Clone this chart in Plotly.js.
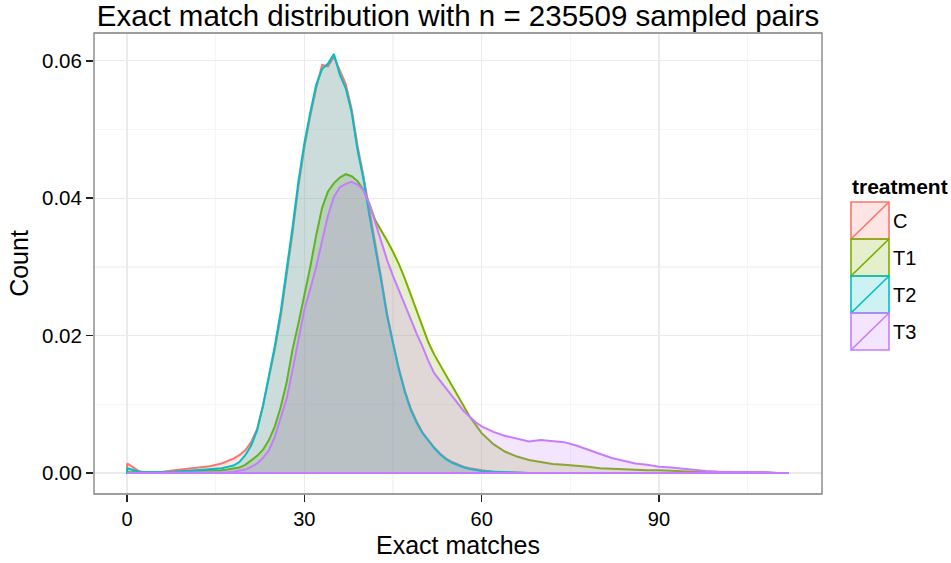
<!DOCTYPE html>
<html>
<head>
<meta charset="utf-8">
<script src="https://cdn.plot.ly/plotly-3.0.1.min.js"></script>
<style>
  html, body { margin: 0; padding: 0; background: #fff; }
  #chart { width: 951px; height: 563px; }
</style>
</head>
<body>
<div id="chart"></div>
<script>
// Number of exact matches (shared grid for all treatments)
const matches = [
  0, 1, 2, 3, 4, 6, 8, 10, 12, 14, 16,
  17, 18, 19, 20, 21, 22, 23, 24, 25, 26, 27, 28, 29, 30,
  31, 32, 33, 34, 35, 36, 37, 38, 39, 40, 41, 42, 43, 44, 45,
  46, 47, 48, 49, 50, 51, 52, 53, 54, 55, 56, 57, 58, 59, 60,
  62, 64, 66, 68, 70, 72, 74, 76, 78, 80, 82, 84, 86, 88, 90,
  92, 94, 96, 98, 100, 102, 104, 106, 108, 110, 112
];

const treatments = ['C', 'T1', 'T2', 'T3'];

// Density per treatment, one value per entry of `matches`
const densityC = [
  0.0014, 0.0008, 0.0003, 0.0001, 0.0001, 0.0002, 0.0004, 0.0006, 0.0008, 0.0010, 0.0014,
  0.0017, 0.0021, 0.0026, 0.0033, 0.0045, 0.0064, 0.0098, 0.0138, 0.0180, 0.0228, 0.0288, 0.0350, 0.0418, 0.0474,
  0.0520, 0.0560, 0.0594, 0.0592, 0.0606, 0.0586, 0.0566, 0.0530, 0.0476, 0.0432, 0.0380, 0.0334, 0.0284, 0.0232, 0.0190,
  0.0152, 0.0120, 0.0094, 0.0075, 0.0059, 0.0048, 0.0037, 0.0028, 0.0021, 0.0016, 0.0012, 0.0009, 0.0007, 0.0005, 0.0004,
  0.0002, 0.0001, 0.0001, 0, 0, 0, 0, 0, 0, 0, 0, 0, 0, 0, 0,
  0, 0, 0, 0, 0, 0, 0, 0, 0, 0, 0
];

const densityT1 = [
  0.0001, 0.0001, 0.0001, 0.0001, 0.0001, 0.0002, 0.0002, 0.0003, 0.0003, 0.0003, 0.0004,
  0.0005, 0.0006, 0.0008, 0.0012, 0.0018, 0.0025, 0.0034, 0.0048, 0.0068, 0.0096, 0.0132, 0.0180, 0.0218, 0.0258,
  0.0300, 0.0346, 0.0386, 0.0410, 0.0422, 0.0430, 0.0435, 0.0432, 0.0425, 0.0412, 0.0392, 0.0368, 0.0354, 0.0338, 0.0322,
  0.0304, 0.0283, 0.0260, 0.0234, 0.0212, 0.0190, 0.0172, 0.0157, 0.0140, 0.0125, 0.0110, 0.0096, 0.0082, 0.0070, 0.0058,
  0.0042, 0.0031, 0.0024, 0.0019, 0.0016, 0.0013, 0.0012, 0.0011, 0.0009, 0.0007, 0.0006, 0.0005, 0.0005, 0.0004, 0.0004,
  0.0003, 0.0003, 0.0002, 0.0002, 0.0002, 0.0001, 0.0001, 0.0001, 0.0001, 0, 0
];

const densityT2 = [
  0.0007, 0.0004, 0.0002, 0.0001, 0.0001, 0.0002, 0.0002, 0.0003, 0.0004, 0.0005, 0.0007,
  0.0009, 0.0011, 0.0016, 0.0026, 0.0040, 0.0062, 0.0098, 0.0140, 0.0185, 0.0235, 0.0295, 0.0358, 0.0425, 0.0480,
  0.0525, 0.0565, 0.0588, 0.0596, 0.0610, 0.0580, 0.0560, 0.0525, 0.0470, 0.0428, 0.0375, 0.0330, 0.0280, 0.0228, 0.0188,
  0.0150, 0.0118, 0.0092, 0.0073, 0.0058, 0.0047, 0.0036, 0.0027, 0.0020, 0.0015, 0.0011, 0.0008, 0.0006, 0.0004, 0.0003,
  0.0002, 0.0001, 0.0001, 0, 0, 0, 0, 0, 0, 0, 0, 0, 0, 0, 0,
  0, 0, 0, 0, 0, 0, 0, 0, 0, 0, 0
];

const densityT3 = [
  0, 0, 0, 0, 0, 0, 0, 0, 0, 0.0001, 0.0001,
  0.0001, 0.0002, 0.0003, 0.0005, 0.0009, 0.0014, 0.0022, 0.0033, 0.0053, 0.0080, 0.0108, 0.0150, 0.0192, 0.0238,
  0.0268, 0.0300, 0.0338, 0.0375, 0.0402, 0.0416, 0.0421, 0.0424, 0.0420, 0.0412, 0.0392, 0.0365, 0.0338, 0.0310, 0.0287,
  0.0266, 0.0243, 0.0222, 0.0203, 0.0184, 0.0163, 0.0145, 0.0134, 0.0124, 0.0112, 0.0101, 0.0090, 0.0082, 0.0074, 0.0068,
  0.0060, 0.0054, 0.0050, 0.0046, 0.0048, 0.0047, 0.0045, 0.0040, 0.0034, 0.0027, 0.0022, 0.0018, 0.0014, 0.0012, 0.0009,
  0.0008, 0.0006, 0.0004, 0.0003, 0.0002, 0.0002, 0.0001, 0.0001, 0.0001, 0, 0
];

const densities = [densityC, densityT1, densityT2, densityT3];
const lineColors = ['#F8766D', '#7CAE00', '#00BFC4', '#C77CFF'];
const fillColors = [
  'rgba(248,118,109,0.2)', 'rgba(124,174,0,0.2)',
  'rgba(0,191,196,0.2)', 'rgba(199,124,255,0.2)'
];

// Each density is drawn as a closed area: curve, then back along the baseline
const traces = treatments.map((name, i) => {
  const ys = densities[i];
  const n = matches.length;
  return {
    type: 'scatter',
    mode: 'lines',
    name: name,
    x: matches.concat([matches[n - 1], matches[0], matches[0]]),
    y: ys.concat([0, 0, ys[0]]),
    fill: 'toself',
    fillcolor: fillColors[i],
    line: { color: lineColors[i], width: 2 },
    showlegend: false,
    hoverinfo: 'skip'
  };
});

// Plot panel in pixels: left 94, right 822, top 33, bottom 494
const PX_L = 94, PX_R = 822, PX_T = 33, PX_B = 494;
const px2x = (px) => (px - PX_L) / (PX_R - PX_L);
const py2y = (py) => (PX_B - py) / (PX_B - PX_T);

// Legend keys: filled box with a diagonal stroke, as in ggplot2 area keys
const shapes = [{
  type: 'rect', xref: 'paper', yref: 'paper',
  x0: 0, x1: 1, y0: 0, y1: 1,
  line: { color: '#7f7f7f', width: 1.3 }, layer: 'above'
}];
const annotations = [{
  text: '<b>treatment</b>', xref: 'paper', yref: 'paper',
  x: px2x(850), y: py2y(186), xanchor: 'left', yanchor: 'middle',
  showarrow: false, font: { size: 21, color: '#000' }
}];
const keyTop = 202, keyH = 37, keyL = 851, keyR = 889;
treatments.forEach((name, i) => {
  const t = keyTop + i * keyH, b = t + keyH;
  shapes.push({
    type: 'rect', xref: 'paper', yref: 'paper',
    x0: px2x(keyL), x1: px2x(keyR), y0: py2y(b), y1: py2y(t),
    fillcolor: fillColors[i], line: { color: lineColors[i], width: 1.6 }
  });
  shapes.push({
    type: 'line', xref: 'paper', yref: 'paper',
    x0: px2x(keyL), x1: px2x(keyR), y0: py2y(b), y1: py2y(t),
    line: { color: lineColors[i], width: 1.6 }
  });
  annotations.push({
    text: name, xref: 'paper', yref: 'paper',
    x: px2x(891), y: py2y((t + b) / 2), xanchor: 'left', yanchor: 'middle',
    showarrow: false, font: { size: 20, color: '#000' }
  });
});

const layout = {
  width: 951, height: 563,
  margin: { l: PX_L, r: 951 - PX_R, t: PX_T, b: 563 - PX_B, pad: 0 },
  paper_bgcolor: '#ffffff',
  plot_bgcolor: '#ffffff',
  font: { family: 'Liberation Sans, Arial, Helvetica, sans-serif', color: '#000' },
  title: {
    text: 'Exact match distribution with n = 235509 sampled pairs',
    font: { size: 29.5, color: '#000' },
    x: 0.5, xref: 'paper', xanchor: 'center',
    y: 1 - 16 / 563, yref: 'container', yanchor: 'middle'
  },
  xaxis: {
    range: [-5.6, 117.6],
    tickvals: [0, 30, 60, 90],
    ticktext: ['0', '30', '60', '90'],
    ticks: 'outside', ticklen: 7, tickwidth: 1.5, tickcolor: '#222',
    tickfont: { size: 20, color: '#000' },
    showgrid: true, gridcolor: '#ebebeb', gridwidth: 1.2,
    minor: { tickvals: [15, 45, 75, 105], showgrid: true, gridcolor: '#f5f5f5', gridwidth: 1.2, ticks: '' },
    zeroline: false, showline: false,
    title: { text: 'Exact matches', font: { size: 25, color: '#000' }, standoff: 7 }
  },
  yaxis: {
    range: [-0.00305, 0.06405],
    tickvals: [0, 0.02, 0.04, 0.06],
    ticktext: ['0.00', '0.02', '0.04', '0.06'],
    ticks: 'outside', ticklen: 7, tickwidth: 1.5, tickcolor: '#222',
    tickfont: { size: 20.5, color: '#000' },
    showgrid: true, gridcolor: '#ebebeb', gridwidth: 1.2,
    minor: { tickvals: [0.01, 0.03, 0.05], showgrid: true, gridcolor: '#f5f5f5', gridwidth: 1.2, ticks: '' },
    zeroline: false, showline: false,
    title: { text: 'Count', font: { size: 25, color: '#000' }, standoff: 6 }
  },
  shapes: shapes,
  annotations: annotations,
  showlegend: false
};

Plotly.newPlot('chart', traces, layout, { displayModeBar: false, staticPlot: true });
</script>
</body>
</html>
